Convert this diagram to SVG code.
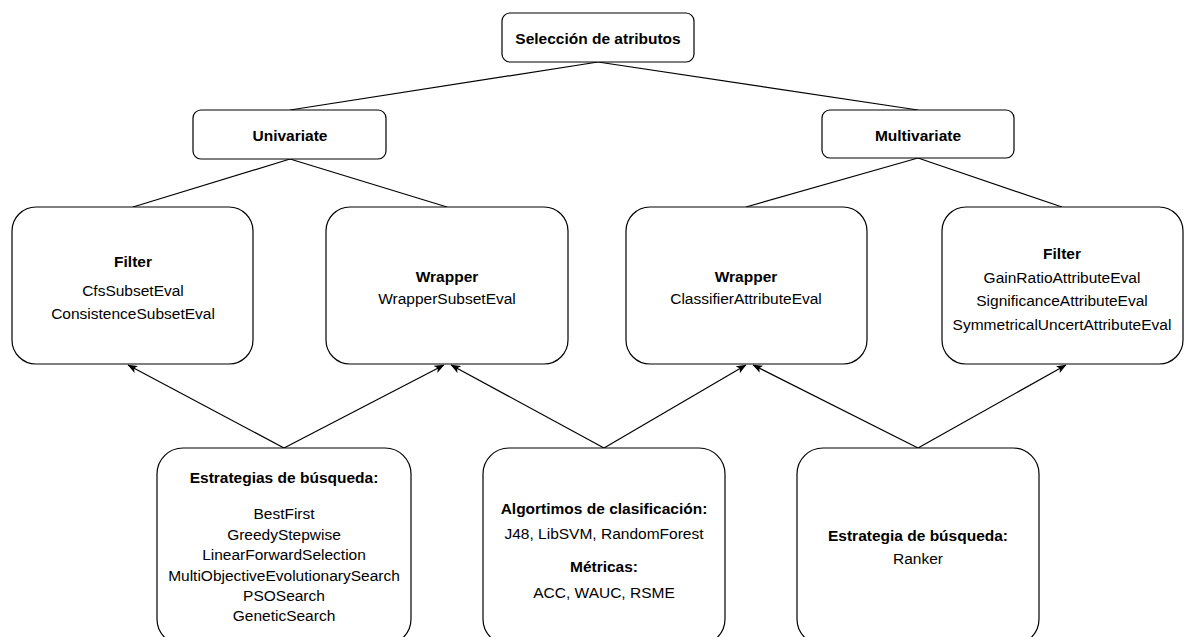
<svg xmlns="http://www.w3.org/2000/svg" width="1186" height="637" viewBox="0 0 1186 637">
  <style>
    .box { fill: #ffffff; stroke: #000000; stroke-width: 1.2; }
    .edge { fill: none; stroke: #000000; stroke-width: 1.2; }
    text { font-family: "Liberation Sans", Arial, Helvetica, sans-serif; font-size: 15.5px; fill: #000000; text-anchor: middle; dominant-baseline: central; }
    .b { font-weight: bold; }
  </style>
  <defs>
    <marker id="arrow" viewBox="0 0 10 8" refX="9.5" refY="4" markerWidth="10" markerHeight="8" markerUnits="userSpaceOnUse" orient="auto">
      <path d="M0,0 L10,4 L0,8 L2.5,4 Z" fill="#000000"/>
    </marker>
  </defs>

  <g id="connectors">
    <!-- hierarchy lines -->
    <path class="edge" d="M598,62 L290,110"/>
    <path class="edge" d="M598,62 L918,110"/>
    <path class="edge" d="M290,159 L133,207"/>
    <path class="edge" d="M290,159 L447,207"/>
    <path class="edge" d="M918,158 L746,207"/>
    <path class="edge" d="M918,158 L1062,207"/>
    <!-- bottom boxes feeding the methods -->
    <path class="edge" d="M284,448 L128,365" marker-end="url(#arrow)"/>
    <path class="edge" d="M284,448 L444,365" marker-end="url(#arrow)"/>
    <path class="edge" d="M604,448 L451,365" marker-end="url(#arrow)"/>
    <path class="edge" d="M604,448 L746,365" marker-end="url(#arrow)"/>
    <path class="edge" d="M918,448 L753,365" marker-end="url(#arrow)"/>
    <path class="edge" d="M918,448 L1066,365" marker-end="url(#arrow)"/>
  </g>

  <g id="root">
    <rect class="box" x="502" y="13" width="192" height="49" rx="8"/>
    <text class="b" x="598" y="38">Selección de atributos</text>
  </g>

  <g id="univariate">
    <rect class="box" x="193" y="110" width="193" height="49" rx="8"/>
    <text class="b" x="290" y="135">Univariate</text>
  </g>

  <g id="multivariate">
    <rect class="box" x="822" y="110" width="192" height="48" rx="8"/>
    <text class="b" x="918" y="135">Multivariate</text>
  </g>

  <g id="filter-uni">
    <rect class="box" x="12" y="207" width="241" height="157" rx="24"/>
    <text class="b" x="133" y="261">Filter</text>
    <text x="133" y="290">CfsSubsetEval</text>
    <text x="133" y="313">ConsistenceSubsetEval</text>
  </g>

  <g id="wrapper-uni">
    <rect class="box" x="326" y="207" width="242" height="157" rx="24"/>
    <text class="b" x="447" y="276">Wrapper</text>
    <text x="447" y="298">WrapperSubsetEval</text>
  </g>

  <g id="wrapper-multi">
    <rect class="box" x="626" y="207" width="241" height="157" rx="24"/>
    <text class="b" x="746" y="276">Wrapper</text>
    <text x="746" y="298">ClassifierAttributeEval</text>
  </g>

  <g id="filter-multi">
    <rect class="box" x="942" y="207" width="241" height="157" rx="24"/>
    <text class="b" x="1062" y="253">Filter</text>
    <text x="1062" y="277">GainRatioAttributeEval</text>
    <text x="1062" y="300">SignificanceAttributeEval</text>
    <text x="1062" y="324">SymmetricalUncertAttributeEval</text>
  </g>

  <g id="search-strategies">
    <rect class="box" x="157" y="448" width="254" height="197" rx="26"/>
    <text class="b" x="284" y="477">Estrategias de búsqueda:</text>
    <text x="284" y="513">BestFirst</text>
    <text x="284" y="534">GreedyStepwise</text>
    <text x="284" y="554">LinearForwardSelection</text>
    <text x="284" y="575">MultiObjectiveEvolutionarySearch</text>
    <text x="284" y="595">PSOSearch</text>
    <text x="284" y="615">GeneticSearch</text>
  </g>

  <g id="classifiers">
    <rect class="box" x="483" y="448" width="242" height="197" rx="26"/>
    <text class="b" x="604" y="508">Algortimos de clasificación:</text>
    <text x="604" y="533">J48, LibSVM, RandomForest</text>
    <text class="b" x="604" y="566">Métricas:</text>
    <text x="604" y="592">ACC, WAUC, RSME</text>
  </g>

  <g id="ranker">
    <rect class="box" x="797" y="448" width="242" height="197" rx="26"/>
    <text class="b" x="918" y="535">Estrategia de búsqueda:</text>
    <text x="918" y="558">Ranker</text>
  </g>
</svg>
